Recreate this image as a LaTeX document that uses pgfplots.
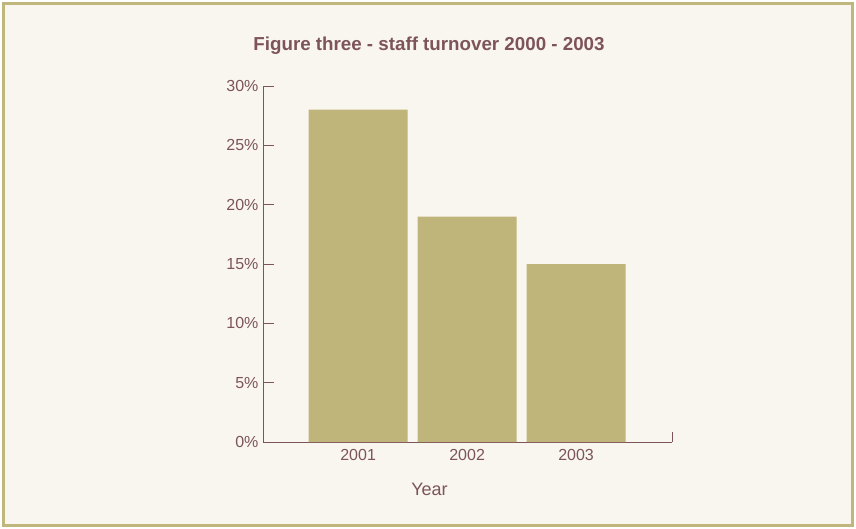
\documentclass[border=0pt]{standalone}
\usepackage{pgfplots}
\pgfplotsset{compat=1.18}
\usepackage{fontspec}
\setmainfont{Liberation Sans}
\definecolor{bgcol}{RGB}{249,246,239}
\definecolor{framecol}{RGB}{192,183,124}
\definecolor{barcol}{RGB}{191,181,122}
\definecolor{txtcol}{RGB}{125,84,88}
\begin{document}
\begin{tikzpicture}[x=1pt,y=1pt]
\fill[white] (0,0) rectangle (856,528);
\draw[framecol, line width=3.5pt, fill=bgcol] (3.5,2.5) rectangle (852.5,524.5);
\node[txtcol, font=\fontsize{18.75}{21}\selectfont\bfseries] at (429,482.5) {Figure three - staff turnover 2000 - 2003};
\begin{axis}[
  at={(263pt,86pt)}, anchor=south west,
  scale only axis, width=409pt, height=356pt,
  xmin=-0.873, xmax=2.88, ymin=0, ymax=30,
  axis x line*=bottom, axis y line*=left,
  axis line style={draw=txtcol, line width=0.9pt},
  xtick={0,1,2}, xticklabels={2001,2002,2003},
  x tick style={draw=none},
  ytick={0,5,10,15,20,25,30},
  yticklabel={\pgfmathprintnumber{\tick}\%},
  y tick style={draw=txtcol, line width=0.9pt},
  tick align=inside, major tick length=10.5pt,
  tick label style={font=\fontsize{16}{18}\selectfont, text=txtcol},
  /pgf/number format/assume math mode=true,
  xticklabel style={yshift=-3.5pt},
  yticklabel style={xshift=-1pt},
  xlabel={Year},
  xlabel style={at={(axis description cs:0.407,0)}, anchor=center, yshift=-47pt, font=\fontsize{18}{20}\selectfont, text=txtcol},
  clip=false,
]
\addplot[ybar, bar width=99pt, fill=barcol, draw=none] coordinates {(0,28) (1,19) (2,15)};
\draw[txtcol, line width=0.9pt] (axis cs:2.88,0) -- ([yshift=10.5pt]axis cs:2.88,0);
\end{axis}
\pgfresetboundingbox
\path[use as bounding box] (0,0) rectangle (856,528);
\end{tikzpicture}
\end{document}
